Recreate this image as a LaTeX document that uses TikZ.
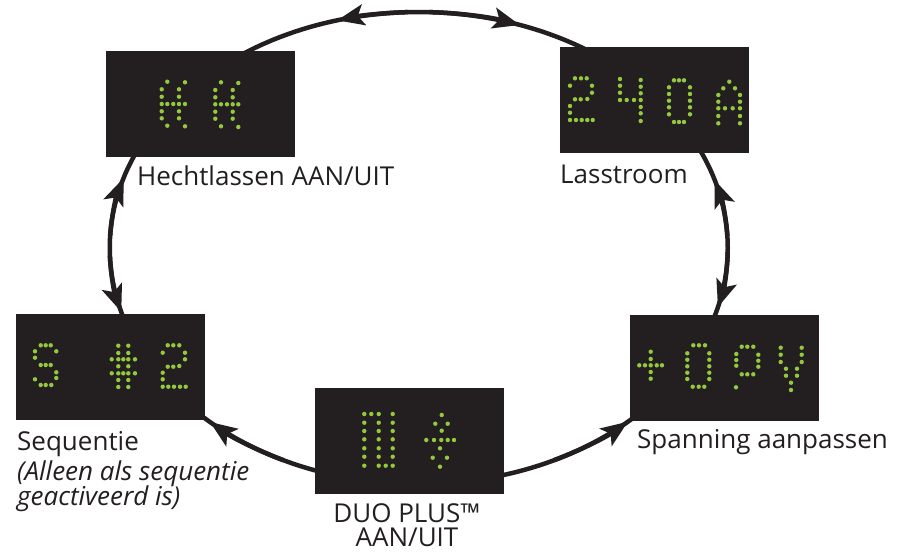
\documentclass[tikz,border=0pt]{standalone}
\usepackage{fontspec}
\setmainfont{Open Sans}
\usetikzlibrary{arrows.meta}
\definecolor{boxc}{HTML}{231F20}
\definecolor{dotc}{HTML}{94C83D}
\definecolor{txtc}{HTML}{231F20}
\begin{document}
\begin{tikzpicture}[x=1pt,y=-1pt,
  disp/.style={fill=boxc, draw=none, minimum width=189pt, minimum height=106pt, inner sep=0pt},
  lbl/.style={text=txtc, inner sep=0pt, anchor=base west, font=\fontsize{26}{30}\selectfont},
  loopline/.style={draw=boxc, line width=4.5pt},
  tipline/.style={loopline, -{Stealth[length=27pt,width=21pt,inset=6pt]}},
  dotfill/.style={fill=dotc}
]
\useasboundingbox (0,0) rectangle (898,555);
\fill[white] (0,0) rectangle (898,555);
\coordinate (c) at (418.75,248);
\draw[loopline] (c) ellipse [x radius=309, y radius=236];

% displays
\node[disp] (hecht) at (200.5,103.5) {};
\node[disp] (lass) at (654.5,100) {};
\node[disp] (seq) at (110.5,366.5) {};
\node[disp] (span) at (724.5,368) {};
\node[disp] (duo) at (409.5,440.5) {};

% arrowheads along the loop
\draw[tipline] (c) ++(-92:309 and 236) arc[start angle=-92, end angle=-105.3, x radius=309, y radius=236];
\draw[tipline] (c) ++(-88:309 and 236) arc[start angle=-88, end angle=-70.9, x radius=309, y radius=236];
\draw[tipline] (c) ++(-3:309 and 236) arc[start angle=-3, end angle=-16.7, x radius=309, y radius=236];
\draw[tipline] (c) ++(1:309 and 236) arc[start angle=1, end angle=14.5, x radius=309, y radius=236];
\draw[tipline] (c) ++(183:309 and 236) arc[start angle=183, end angle=197.25, x radius=309, y radius=236];
\draw[tipline] (c) ++(178:309 and 236) arc[start angle=178, end angle=164.3, x radius=309, y radius=236];
\draw[tipline] (c) ++(116:309 and 236) arc[start angle=116, end angle=132.5, x radius=309, y radius=236];
\draw[tipline] (c) ++(64:309 and 236) arc[start angle=64, end angle=47.4, x radius=309, y radius=236];

% dot matrix: Hechtlassen
\foreach \x/\y in {167.3/81.7, 185/82.3, 161.7/89.3, 179/89.3, 161.7/96.7, 179/96.7, 161.7/104, 167.3/104, 173.3/104, 179/104, 185/104, 161.7/111.3, 179/111.3, 161.7/118.3, 179/118.3, 167.3/125.7, 185/126.3,
  221/82.3, 238.3/83, 215.3/90, 232.7/90, 215.3/97.3, 232.7/97.3, 215.3/104.3, 221/104.3, 227/104.3, 232.7/104.3, 238.3/104.3, 215.3/111.7, 232.7/111.7, 215.3/118.7, 232.7/118.7, 221/126.3, 238.3/127}
  \fill[dotfill] (\x,\y) circle[radius=2.2pt];
% Lasstroom 240A
\foreach \x/\y in {575/78.3, 581/78.3, 586.7/78.3, 570/85.7, 592/85.7, 592/92.7, 575/99.3, 580.7/99.3, 587.3/99, 570/106, 570/112.7, 570/120, 576/120, 581.7/120, 587.3/120, 592.7/120,
  620/79, 640.7/80, 620/85.7, 640.7/86.7, 620/92.7, 640.7/93.3, 620/100, 626.7/100, 634/100, 640.7/100, 640.7/107, 640.7/113.3, 640.7/121,
  674/80.3, 679/80.3, 684/80.3, 669/87.3, 690/87.3, 669/94, 690/94, 669/100.7, 690/100.7, 669/107.3, 690/107.3, 669/114.3, 690/114.3, 674/122, 679/122, 684/122,
  729.3/81.7, 723.3/88.3, 735/88.3, 718.3/95, 740/95, 718.3/101.7, 740/101.7, 718.3/108.3, 725/108.3, 732.7/108.3, 740/108.3, 718.3/116, 740/116, 718.3/123.3, 740/123.3}
  \fill[dotfill] (\x,\y) circle[radius=2.2pt];
% Sequentie S #2
\foreach \x/\y in {40.7/345.3, 45.7/345.3, 50.7/345.3, 35/351.3, 56.3/351.3, 35/357.7, 40.7/365, 45.7/365, 50.7/365, 56.3/372.3, 35/379.3, 56.3/378, 40.7/385, 45.7/385, 51.3/385,
  118.3/345.7, 128.3/345.7, 118.3/353, 128.3/353, 111.7/359.3, 118.3/359.3, 123.3/359.3, 128.3/359.3, 135/359.3, 118.3/366.3, 128.3/366.3, 111.7/373.3, 118.3/373.3, 123.3/373.3, 128.3/373.3, 135/373.3, 118.3/380, 128.3/380, 118.3/387, 128.3/387,
  167.7/345.3, 173.3/345.3, 179.3/345.3, 162.7/352.7, 185/352.7, 185/359.3, 167.7/366.7, 173.3/366.7, 179.3/366, 162.7/372.7, 162.7/379.3, 162.7/386.7, 168.3/386.7, 174/386.7, 180/386.7, 185.7/386.7}
  \fill[dotfill] (\x,\y) circle[radius=2.2pt];
% Spanning +0PV
\foreach \x/\y in {650.7/351.7, 650.7/359, 639.3/365.3, 645/365.3, 650.7/365.3, 656.7/365.3, 662/365.3, 650.7/372, 650.7/378.7,
  693.3/345.3, 699/345.3, 705/345.3, 687.3/353.3, 709.3/353.3, 687.3/359.7, 709.3/359.7, 687.3/366.3, 709.3/366.3, 687.3/372.7, 709.3/372.7, 687.3/379, 709.3/379, 692.7/386.7, 698.7/386.7, 704.3/386.7,
  741.7/346.7, 747.3/346.7, 753.3/346.7, 736.3/354, 758.3/354.7, 736.3/360, 758.3/360.7, 736.3/365.7, 758.3/366.7, 741.7/374.3, 747.3/374.3, 753.3/374.3, 736/387.3,
  780.7/347.7, 801.7/347.7, 780.7/354.7, 801.7/354.7, 780.7/362, 801.7/362, 786/368.7, 797/368.7, 786/375.7, 797/375.7, 791/382.7, 791/390}
  \fill[dotfill] (\x,\y) circle[radius=2.2pt];
% DUO PLUS
\foreach \x/\y in {364.3/414, 371.3/414, 378.7/414, 392.7/414,
  364.3/422.7, 378.7/422.7, 392.7/422.7, 364.3/431, 378.7/431, 392.7/431, 364.3/439.3, 378.7/439.3, 392.7/439.3, 364.3/448.3, 378.7/448.3, 392.7/448.3, 364.3/456.7, 378.7/456.7, 392.7/456.7,
  364.3/465.7, 378.7/465.7, 385.7/465.7, 392.7/465.7,
  441.7/415, 435.3/423.7, 447.7/423.7, 441.7/430.7, 426.3/440, 434/440, 441.3/440, 447.7/440, 454/440, 440/448.3, 432.7/457.7, 447/457.7, 440/466.7}
  \fill[dotfill] (\x,\y) circle[radius=2.2pt];

% labels
\node[lbl] (tHecht) at (137,185) {Hechtlassen AAN/UIT};
\node[lbl] (tLass) at (560,183) {Lasstroom};
\node[lbl] (tSpan) at (637,448) {Spanning aanpassen};
\node[lbl] (tSeq) at (17,450) {Sequentie};
\node[lbl, font=\fontsize{26}{30}\selectfont\itshape] (tSeq2) at (17,480) {(Alleen als sequentie};
\node[lbl, font=\fontsize{26}{30}\selectfont\itshape] (tSeq3) at (17,505) {geactiveerd is)};
\node[lbl, anchor=north, align=center, font=\fontsize{26}{24}\selectfont] (tDuo) at (407,503) {DUO PLUS™\\AAN/UIT};
\end{tikzpicture}
\end{document}
